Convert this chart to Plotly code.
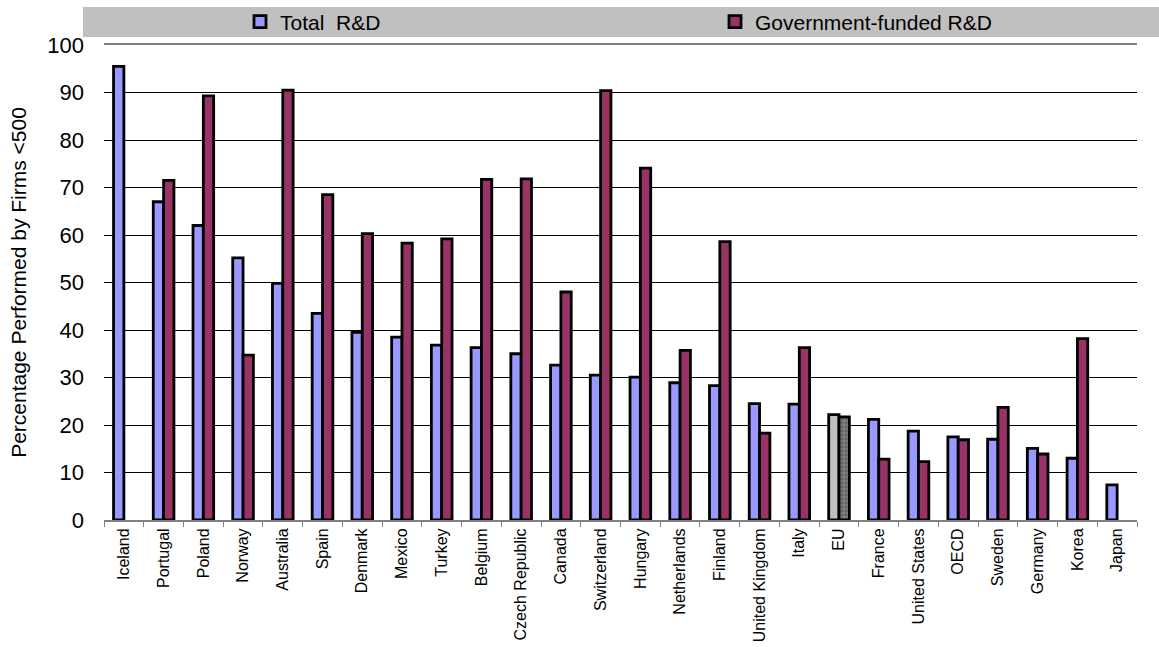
import plotly.graph_objects as go

categories = ["Iceland", "Portugal", "Poland", "Norway", "Australia", "Spain", "Denmark",
              "Mexico", "Turkey", "Belgium", "Czech Republic", "Canada", "Switzerland",
              "Hungary", "Netherlands", "Finland", "United Kingdom", "Italy", "EU", "France",
              "United States", "OECD", "Sweden", "Germany", "Korea", "Japan"]
total_rd = [95.5, 67.0, 62.0, 55.2, 49.8, 43.5, 39.5, 38.5, 36.8, 36.3, 35.0, 32.6, 30.5,
            30.1, 28.9, 28.3, 24.5, 24.4, 22.2, 21.2, 18.7, 17.5, 17.0, 15.1, 13.0, 7.4]
gov_rd = [None, 71.5, 89.3, 34.7, 90.5, 68.5, 60.3, 58.3, 59.2, 71.7, 71.8, 48.0, 90.4,
          74.1, 35.7, 58.6, 18.3, 36.3, 21.7, 12.8, 12.3, 16.9, 23.7, 13.9, 38.2, None]
y_ticks = [0, 10, 20, 30, 40, 50, 60, 70, 80, 90, 100]

FONT = "Arial, 'Liberation Sans', sans-serif"
BLUE, RED = "#9999FF", "#993366"

total_colors = ["#C0C0C0" if c == "EU" else BLUE for c in categories]
gov_colors = ["#808080" if c == "EU" else RED for c in categories]
gov_pattern = ["." if c == "EU" else "" for c in categories]

fig = go.Figure()
fig.add_trace(go.Bar(
    x=categories, y=total_rd, name="Total\u00a0 R&D", legend="legend",
    marker=dict(color=total_colors, line=dict(color="black", width=2.8)),
))
fig.add_trace(go.Bar(
    x=categories, y=gov_rd, name="Government-funded R&D", legend="legend2",
    marker=dict(color=gov_colors, line=dict(color="black", width=2.8),
                pattern=dict(shape=gov_pattern, fgcolor="#404040", size=4, solidity=0.4)),
))

L, R, T, B = 104, 22, 45, 127
W, H = 1159, 647
pw, ph = W - L - R, H - T - B

def px_x(p):
    return (p - L) / pw

def px_y(p):
    return 1 + (T - p) / ph

fig.add_shape(type="rect", xref="paper", yref="paper",
              x0=px_x(83), x1=px_x(1159), y0=px_y(37), y1=px_y(7),
              fillcolor="#C0C0C0", line=dict(width=0), layer="below")

legend_common = dict(orientation="h", xanchor="left", y=px_y(22), yanchor="middle",
                     bgcolor="rgba(0,0,0,0)", borderwidth=0,
                     font=dict(size=21, family=FONT, color="black"))

fig.update_layout(
    width=W, height=H,
    margin=dict(l=L, r=R, t=T, b=B, pad=0, autoexpand=False),
    paper_bgcolor="white", plot_bgcolor="white",
    barmode="group", bargap=0.48, bargroupgap=0,
    font=dict(family=FONT, color="black"),
    showlegend=True,
    legend=dict(x=px_x(240), **legend_common),
    legend2=dict(x=px_x(715), **legend_common),
    xaxis=dict(type="category", showline=True, linecolor="#808080", linewidth=2,
               mirror=True, ticks="outside", tickson="boundaries", ticklen=5,
               tickcolor="#808080", tickwidth=1, tickangle=-90,
               tickfont=dict(size=16, family=FONT, color="black"), showgrid=False),
    yaxis=dict(range=[0, 100], tickvals=y_ticks, showgrid=True, gridcolor="black",
               gridwidth=1, showline=False, zeroline=False, ticks="",
               ticklabelstandoff=19,
               tickfont=dict(size=22, family=FONT, color="black"),
               title=dict(text="Percentage Performed by Firms <500",
                          font=dict(size=21, family=FONT, color="black"), standoff=14)),
)

fig.write_html("out.html")
